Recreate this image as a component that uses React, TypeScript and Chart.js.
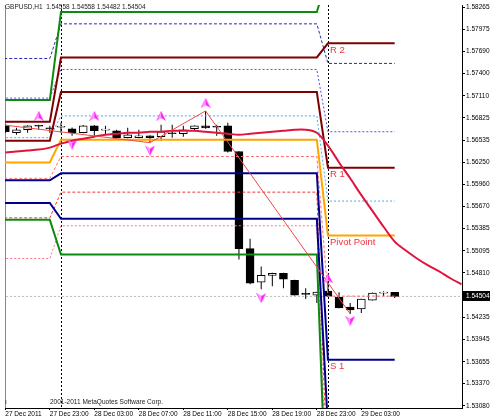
import React, { useEffect, useRef } from 'react';
import { Chart, registerables } from 'chart.js';

Chart.register(...registerables);

// ---------- data ----------
const HOURS = [-5, -4, -3, -2, -1, 0, 1, 2, 3, 4, 5, 6, 7, 8, 9, 10, 11, 12, 13, 14, 15, 16, 17, 18, 19, 20, 21, 22, 23, 24, 25, 26, 27, 28, 29, 30];
const OPEN = [1.56721, 1.56631, 1.5667, 1.56721, 1.5669, 1.56702, 1.56683, 1.56631, 1.56721, 1.56665, 1.56657, 1.56567, 1.56567, 1.56592, 1.5658, 1.56631, 1.56618, 1.56683, 1.56721, 1.56708, 1.56721, 1.56387, 1.55126, 1.54688, 1.54778, 1.54804, 1.54714, 1.54534, 1.54521, 1.54572, 1.54495, 1.54367, 1.54341, 1.54456, 1.54546, 1.54558];
const HIGH = [1.5674, 1.56695, 1.56728, 1.56734, 1.56721, 1.5676, 1.567, 1.5673, 1.5673, 1.56721, 1.5667, 1.56695, 1.5667, 1.566, 1.56734, 1.56734, 1.56721, 1.56725, 1.56914, 1.56734, 1.5676, 1.5639, 1.55254, 1.54894, 1.5481, 1.5481, 1.5472, 1.54611, 1.54565, 1.547, 1.54559, 1.54418, 1.54475, 1.54555, 1.54572, 1.54558];
const LOW = [1.5663, 1.56605, 1.56631, 1.5667, 1.56631, 1.56631, 1.56592, 1.56625, 1.56592, 1.56605, 1.5656, 1.5656, 1.5656, 1.56502, 1.56528, 1.56567, 1.5658, 1.56657, 1.56683, 1.56592, 1.56374, 1.54984, 1.54662, 1.54598, 1.54637, 1.54611, 1.54515, 1.54469, 1.54418, 1.545, 1.5435, 1.54277, 1.5429, 1.5445, 1.54508, 1.54482];
const CLOSE = [1.56644, 1.5667, 1.56721, 1.56715, 1.56683, 1.56708, 1.56631, 1.56721, 1.56657, 1.5667, 1.56567, 1.56605, 1.56592, 1.56567, 1.56644, 1.56618, 1.5667, 1.56721, 1.56695, 1.56702, 1.56387, 1.55126, 1.54675, 1.54778, 1.54804, 1.54727, 1.54521, 1.5453, 1.54559, 1.54508, 1.54354, 1.54328, 1.54469, 1.54546, 1.54552, 1.54504];

// pivot levels per day: 27 Dec, 28 Dec, 29 Dec
const DAY_START = [-6, 0, 24];
const DAY_END = [-1, 23, 30];
const R3 = [1.57056, 1.58201, 1.58672];
const R2 = [1.56773, 1.57609, 1.57793];
const R1 = [1.56528, 1.57159, 1.56176];
const PP = [1.56245, 1.56541, 1.55297];
const S1 = [1.56013, 1.56104, 1.5368];
const S2 = [1.55718, 1.55512, 1.52801];
const S3 = [1.55499, 1.55049, 1.51184];
const LV_A = [1.57596, 1.58046, 1.57532];
const LV_B = [1.57081, 1.57454, 1.56644];
const LV_C = [1.56567, 1.5685, 1.55743];
const LV_D = [1.56039, 1.56322, 1.54508];
const LV_E = [1.55525, 1.55859, 1.52];
const LV_F = [1.54997, 1.55422, 1.515];

const MA_HOURS = [-5, -4, -3, -2, -1, 0, 1, 2, 3, 4, 5, 6, 7, 8, 9, 10, 11, 12, 13, 14, 15, 16, 17, 18, 19, 20, 21, 22, 23, 24, 25, 26, 27, 28, 29, 30, 31, 32, 33, 34, 35, 36];
const MA_VALUES = [1.56374, 1.56387, 1.564, 1.56413, 1.56438, 1.5649, 1.56528, 1.56554, 1.5658, 1.56605, 1.56618, 1.56631, 1.56631, 1.56644, 1.56644, 1.56657, 1.56657, 1.56657, 1.56644, 1.56631, 1.56618, 1.56605, 1.56618, 1.56631, 1.56644, 1.56657, 1.5667, 1.5667, 1.56631, 1.56464, 1.56245, 1.56039, 1.5582, 1.55615, 1.55409, 1.55216, 1.551, 1.54997, 1.54907, 1.5483, 1.5474, 1.54662];

const ZZ_HOURS = [-6, 8, 13, 26];
const ZZ_PRICES = [1.56747, 1.56502, 1.56914, 1.54277];

const FR_UP_HOURS = [-2, 3, 9, 13, 24];
const FR_UP_PRICES = [1.5685, 1.5685, 1.5685, 1.57017, 1.5474];
const FR_DN_HOURS = [1, 8, 18, 26];
const FR_DN_PRICES = [1.56477, 1.564, 1.54482, 1.54187];

const CURRENT = 1.54504;
const SEPARATORS = [0, 24];

const Y_TICKS = [1.58265, 1.57975, 1.5769, 1.574, 1.5711, 1.56825, 1.56535, 1.5625, 1.5596, 1.5567, 1.55385, 1.55095, 1.5481, 1.54235, 1.53945, 1.53655, 1.5337, 1.5308];
const X_TICKS = [-5, -1, 3, 7, 11, 15, 19, 23, 27];
const X_LABELS = ['27 Dec 2011', '27 Dec 23:00', '28 Dec 03:00', '28 Dec 07:00', '28 Dec 11:00', '28 Dec 15:00', '28 Dec 19:00', '28 Dec 23:00', '29 Dec 03:00'];

const PIVOT_LABELS = ['R 2', 'R 1', 'Pivot Point', 'S 1'];
const PIVOT_LABEL_VALUES = [R2[2], R1[2], PP[2], S1[2]];

const HEADER = 'GBPUSD,H1  1.54558 1.54558 1.54482 1.54504';
const COPYRIGHT = '2001-2011 MetaQuotes Software Corp.';

const X_MIN = -5.03;
const X_MAX = 36.05;
const Y_MIN = 1.53054;
const Y_MAX = 1.58291;

const FONT = 'Liberation Sans';

function levelPoints(vals: number[]) {
  return vals.flatMap((v, d) => [
    { x: DAY_START[d], y: v },
    { x: DAY_END[d], y: v },
  ]);
}

function makeArrow(up: boolean) {
  const c = document.createElement('canvas');
  c.width = 10;
  c.height = 10;
  const g = c.getContext('2d')!;
  g.fillStyle = '#FF22FF';
  g.beginPath();
  if (up) {
    g.moveTo(5, 0);
    g.lineTo(10, 10);
    g.lineTo(5, 7);
    g.lineTo(0, 10);
  } else {
    g.moveTo(5, 10);
    g.lineTo(10, 0);
    g.lineTo(5, 3);
    g.lineTo(0, 0);
  }
  g.closePath();
  g.fill();
  g.fillStyle = '#FF9CFF';
  g.beginPath();
  if (up) {
    g.moveTo(5, 1);
    g.lineTo(5, 7);
    g.lineTo(1, 9.5);
  } else {
    g.moveTo(5, 9);
    g.lineTo(5, 3);
    g.lineTo(1, 0.5);
  }
  g.closePath();
  g.fill();
  return c;
}

const overlayPlugin = {
  id: 'overlay',
  beforeDatasetsDraw(chart: any) {
    const { ctx, chartArea } = chart;
    const x = chart.scales.x;
    ctx.save();
    ctx.strokeStyle = '#000';
    ctx.lineWidth = 1;
    ctx.setLineDash([2, 2]);
    SEPARATORS.forEach((h) => {
      const px = Math.round(x.getPixelForValue(h)) + 0.5;
      ctx.beginPath();
      ctx.moveTo(px, chartArea.top);
      ctx.lineTo(px, chartArea.bottom);
      ctx.stroke();
    });
    ctx.setLineDash([]);
    ctx.strokeStyle = '#888';
    ctx.beginPath();
    ctx.moveTo(chartArea.left + 0.5, chartArea.top);
    ctx.lineTo(chartArea.left + 0.5, chartArea.bottom);
    ctx.stroke();
    ctx.restore();
  },
  afterDraw(chart: any) {
    const { ctx, chartArea } = chart;
    const x = chart.scales.x;
    const y = chart.scales.y;
    ctx.save();
    // pivot labels
    ctx.font = `9.5px "${FONT}"`;
    ctx.fillStyle = '#F0303C';
    ctx.textBaseline = 'top';
    ctx.textAlign = 'left';
    PIVOT_LABELS.forEach((t, i) => {
      ctx.fillText(t, x.getPixelForValue(DAY_START[2]) + 2, y.getPixelForValue(PIVOT_LABEL_VALUES[i]) + 2);
    });
    // header & copyright
    ctx.font = `6.5px "${FONT}"`;
    ctx.fillStyle = '#222';
    ctx.textBaseline = 'middle';
    ctx.fillText(HEADER, 5, 7);
    ctx.fillText(COPYRIGHT, 50, 402);
    ctx.fillText('ı', 5, 402);
    // current price box
    const py = y.getPixelForValue(CURRENT);
    ctx.fillStyle = '#000';
    ctx.fillRect(chartArea.right + 1, Math.round(py) - 5, 490 - chartArea.right - 1, 10);
    ctx.fillStyle = '#fff';
    ctx.fillText(CURRENT.toFixed(5), chartArea.right + 4, Math.round(py));
    ctx.restore();
  },
};

export default function App() {
  const ref = useRef<HTMLCanvasElement | null>(null);

  useEffect(() => {
    document.body.style.margin = '0';
    const canvas = ref.current!;
    const upArrow = makeArrow(true);
    const dnArrow = makeArrow(false);

    const lvl = (label: string, vals: number[], color: string, width: number, dash: number[], order: number) => ({
      type: 'line',
      label,
      data: levelPoints(vals),
      borderColor: color,
      borderWidth: width,
      borderDash: dash,
      pointRadius: 0,
      fill: false,
      tension: 0,
      order,
    });

    const chart = new Chart(canvas, {
      type: 'bar',
      data: {
        datasets: [
          {
            type: 'scatter',
            label: 'fractal up',
            data: FR_UP_HOURS.map((h, i) => ({ x: h, y: FR_UP_PRICES[i] })),
            pointStyle: upArrow,
            showLine: false,
            order: 0,
          },
          {
            type: 'scatter',
            label: 'fractal down',
            data: FR_DN_HOURS.map((h, i) => ({ x: h, y: FR_DN_PRICES[i] })),
            pointStyle: dnArrow,
            showLine: false,
            order: 0,
          },
          {
            type: 'line',
            label: 'zigzag',
            data: ZZ_HOURS.map((h, i) => ({ x: h, y: ZZ_PRICES[i] })),
            borderColor: '#F04848',
            borderWidth: 1,
            pointRadius: 0,
            tension: 0,
            order: 1,
          },
          {
            type: 'line',
            label: 'MA',
            data: MA_HOURS.map((h, i) => ({ x: h, y: MA_VALUES[i] })),
            borderColor: '#E0143C',
            borderWidth: 2,
            pointRadius: 0,
            tension: 0.3,
            order: 2,
          },
          lvl('R3', R3, '#0E8A0E', 2, [], 3),
          lvl('R2', R2, '#800000', 2, [], 3),
          lvl('R1', R1, '#800000', 2, [], 3),
          lvl('PP', PP, '#FFA500', 2, [], 3),
          lvl('S1', S1, '#00008B', 2, [], 3),
          lvl('S2', S2, '#00008B', 2, [], 3),
          lvl('S3', S3, '#0E8A0E', 2, [], 3),
          lvl('A', LV_A, '#2828B4', 1, [3, 2], 4),
          lvl('B', LV_B, '#5050E6', 1, [2, 2], 4),
          lvl('C', LV_C, '#50A8F0', 1, [2, 2], 4),
          lvl('D', LV_D, '#FF7070', 1, [3, 2], 4),
          lvl('E', LV_E, '#F03838', 1, [3, 2], 4),
          lvl('F', LV_F, '#FF7090', 1, [2, 2], 4),
          {
            type: 'bar',
            label: 'body',
            data: HOURS.map((h, i) => ({ x: h, y: [OPEN[i], CLOSE[i]] })),
            backgroundColor: HOURS.map((_, i) => (CLOSE[i] >= OPEN[i] ? '#FFFFFF' : '#000000')),
            borderColor: '#000000',
            borderWidth: 1,
            borderSkipped: false,
            grouped: false,
            barPercentage: 1,
            categoryPercentage: 1,
            maxBarThickness: 8,
            minBarLength: 1,
            order: 5,
          },
          {
            type: 'bar',
            label: 'wick',
            data: HOURS.map((h, i) => ({ x: h, y: [LOW[i], HIGH[i]] })),
            backgroundColor: '#000000',
            borderWidth: 0,
            grouped: false,
            maxBarThickness: 1,
            minBarLength: 1,
            order: 6,
          },
          {
            type: 'line',
            label: 'price',
            data: [
              { x: X_MIN - 1, y: CURRENT },
              { x: X_MAX + 1, y: CURRENT },
            ],
            borderColor: '#B8B8B8',
            borderWidth: 1,
            borderDash: [2, 2],
            pointRadius: 0,
            order: 7,
          },
        ] as any,
      },
      options: {
        animation: false,
        responsive: false,
        maintainAspectRatio: false,
        events: [],
        layout: { padding: { left: 2, top: 1, right: 0, bottom: 0 } },
        plugins: {
          legend: { display: false },
          tooltip: { enabled: false },
        },
        scales: {
          x: {
            type: 'linear',
            offset: false,
            min: X_MIN,
            max: X_MAX,
            afterBuildTicks: (s: any) => {
              s.ticks = X_TICKS.map((v) => ({ value: v }));
            },
            afterFit: (s: any) => {
              s.height = 12;
              s.paddingLeft = 0;
              s.paddingRight = 0;
              s.paddingTop = 0;
              s.paddingBottom = 0;
            },
            ticks: {
              autoSkip: false,
              maxRotation: 0,
              minRotation: 0,
              align: 'start',
              padding: 0,
              color: '#000',
              font: { family: FONT, size: 6.5 },
              callback: (_v: any, i: number) => X_LABELS[i],
            },
            grid: { drawOnChartArea: false, drawTicks: true, tickLength: 2, color: '#000', offset: false },
            border: { display: true, color: '#000', width: 1 },
          },
          y: {
            type: 'linear',
            position: 'right',
            min: Y_MIN,
            max: Y_MAX,
            afterBuildTicks: (s: any) => {
              s.ticks = Y_TICKS.map((v) => ({ value: v }));
            },
            afterFit: (s: any) => {
              s.width = 28;
              s.paddingLeft = 0;
              s.paddingRight = 0;
              s.paddingTop = 0;
              s.paddingBottom = 0;
            },
            ticks: {
              autoSkip: false,
              padding: 1,
              color: '#000',
              font: { family: FONT, size: 6.5 },
              callback: (v: any) => Number(v).toFixed(5),
            },
            grid: { drawOnChartArea: false, drawTicks: true, tickLength: 3, color: '#000' },
            border: { display: true, color: '#000', width: 1 },
          },
        },
      } as any,
      plugins: [overlayPlugin],
    });

    return () => chart.destroy();
  }, []);

  return (
    <div style={{ position: 'absolute', left: 0, top: 0, width: 490, height: 420, background: '#fff' }}>
      <canvas ref={ref} width={490} height={420} style={{ display: 'block', width: 490, height: 420 }} />
    </div>
  );
}
